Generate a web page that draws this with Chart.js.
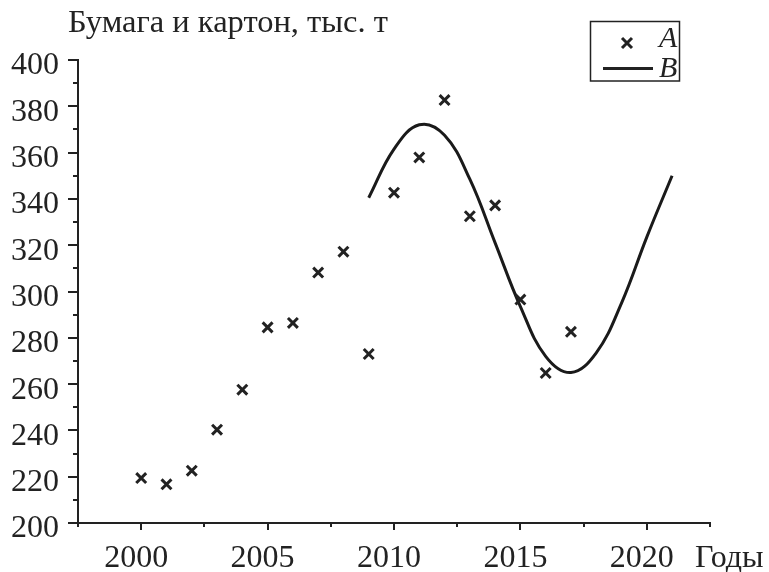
<!DOCTYPE html>
<html><head><meta charset="utf-8">
<script src="https://cdn.jsdelivr.net/npm/chart.js@4.4.1/dist/chart.umd.min.js"></script>
<style>html,body{margin:0;padding:0;background:#fff}#wrap{width:769px;height:572px;position:relative}</style>
</head><body><div id="wrap"><canvas id="c" width="769" height="572"></canvas></div>
<script>
// ---- data ----
const yearsA = [2000,2001,2002,2003,2004,2005,2006,2007,2008,2009,2010,2011,2012,2013,2014,2015,2016,2017];
const valuesA = [219.4,216.7,222.6,240.3,257.6,284.5,286.4,308.2,317.2,273.0,342.7,357.9,382.7,332.5,337.2,296.5,264.8,282.6];
const yearsB = [2009,2010,2011,2012,2013,2014,2015,2016,2017,2018,2019,2020,2021];
const valuesB = [340.5,361.5,372,367.5,348.5,321,293.5,272,265,273.5,295,323.5,350];
const xTickLabels = [2000,2005,2010,2015,2020];
const yTickLabels = [200,220,240,260,280,300,320,340,360,380,400];
const titleText = 'Бумага и картон, тыс. т';
const xAxisTitle = 'Годы';
const legendLabels = ['A','B'];

const INK = '#222';
const SERIF = "'Liberation Serif','Times New Roman',serif";

const decor = {
  id: 'decor',
  afterDraw(chart) {
    const {ctx, chartArea, scales: {x, y}} = chart;
    ctx.save();
    ctx.strokeStyle = INK;
    ctx.lineWidth = 2;
    ctx.lineCap = 'butt';
    const L = chartArea.left, B = chartArea.bottom;
    // y ticks (major every 20, minor every 10)
    for (let v = y.min; v <= y.max + 0.001; v += 10) {
      const py = Math.round(y.getPixelForValue(v));
      const len = (v % 20 === 0) ? 10 : 5;
      ctx.beginPath(); ctx.moveTo(L - len, py); ctx.lineTo(L, py); ctx.stroke();
    }
    // x ticks (major every 5, minor every 2.5)
    for (let v = x.min; v <= x.max + 0.001; v += 2.5) {
      const px = Math.round(x.getPixelForValue(v));
      const len = (Math.abs(v % 5) < 0.01) ? 7 : 4;
      ctx.beginPath(); ctx.moveTo(px, B); ctx.lineTo(px, B + len); ctx.stroke();
    }
    // title and axis name
    ctx.fillStyle = INK;
    ctx.textBaseline = 'alphabetic';
    ctx.textAlign = 'left';
    ctx.font = '32.5px ' + SERIF;
    ctx.fillText(titleText, 68, 32);
    ctx.font = '32px ' + SERIF;
    ctx.fillText(xAxisTitle, 695, 567);
    // legend
    ctx.lineWidth = 1.5;
    ctx.strokeRect(590.5, 21.5, 89, 59.5);
    const mx = 627, my = 43, h = 5;
    ctx.lineWidth = 3;
    ctx.beginPath();
    ctx.moveTo(mx - h, my - h); ctx.lineTo(mx + h, my + h);
    ctx.moveTo(mx + h, my - h); ctx.lineTo(mx - h, my + h);
    ctx.stroke();
    ctx.lineWidth = 3;
    ctx.beginPath(); ctx.moveTo(603, 68.5); ctx.lineTo(653, 68.5); ctx.stroke();
    ctx.font = 'italic 30px ' + SERIF;
    ctx.fillText(legendLabels[0], 659, 47);
    ctx.fillText(legendLabels[1], 659, 77);
    ctx.restore();
  }
};

new Chart(document.getElementById('c'), {
  type: 'scatter',
  data: {
    datasets: [
      {
        label: legendLabels[0],
        data: yearsA.map((v, i) => ({x: v, y: valuesA[i]})),
        pointStyle: 'crossRot',
        pointRadius: 7,
        pointBorderWidth: 3,
        borderColor: INK,
        backgroundColor: INK,
        showLine: false
      },
      {
        label: legendLabels[1],
        data: yearsB.map((v, i) => ({x: v, y: valuesB[i]})),
        showLine: true,
        pointRadius: 0,
        borderColor: '#1a1a1a',
        borderWidth: 3,
        tension: 0.4,
        fill: false
      }
    ]
  },
  options: {
    responsive: false,
    animation: false,
    devicePixelRatio: 1,
    layout: {padding: {left: 0, top: 60, right: 59, bottom: 0}},
    plugins: {legend: {display: false}, title: {display: false}, tooltip: {enabled: false}},
    scales: {
      x: {
        type: 'linear',
        min: 1997.5,
        max: 2022.5,
        afterBuildTicks: (s) => { s.ticks = xTickLabels.map(v => ({value: v})); },
        afterFit: (s) => { s.height = 49; },
        grid: {display: true, drawOnChartArea: false, drawTicks: true, tickLength: 7, color: 'rgba(0,0,0,0)'},
        border: {display: true, color: INK, width: 2},
        ticks: {color: INK, font: {family: SERIF, size: 32}, padding: 9, labelOffset: -5, maxRotation: 0, autoSkip: false,
                callback: (v) => String(v)}
      },
      y: {
        type: 'linear',
        min: 200,
        max: 400,
        afterBuildTicks: (s) => { s.ticks = yTickLabels.map(v => ({value: v})); },
        afterFit: (s) => { s.width = 78; },
        grid: {display: true, drawOnChartArea: false, drawTicks: true, tickLength: 10, color: 'rgba(0,0,0,0)'},
        border: {display: true, color: INK, width: 2},
        ticks: {color: INK, font: {family: SERIF, size: 32}, padding: 9, labelOffset: 6, autoSkip: false,
                callback: (v) => String(v)}
      }
    }
  },
  plugins: [decor]
});
</script>
</body></html>
